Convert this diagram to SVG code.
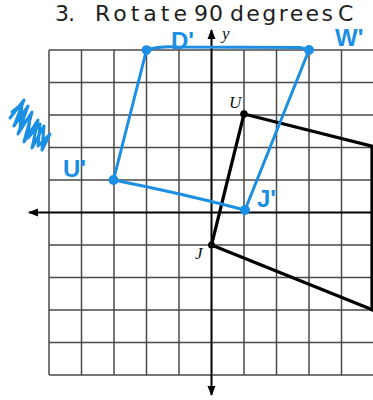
<svg xmlns="http://www.w3.org/2000/svg" width="373" height="400" viewBox="0 0 373 400">
<style>
.grid{stroke:#4a4a4a;stroke-width:1.5;fill:none}
.axis{stroke:#000;stroke-width:2;fill:none}
.orig{stroke:#000;stroke-width:3.2;fill:none;stroke-linecap:round}
.img{stroke:#1b8fe3;stroke-width:3;fill:none;stroke-linecap:round;stroke-linejoin:round}
.title{font-family:"DejaVu Sans","Liberation Sans",sans-serif;font-size:22px;fill:#1e1e1e}
.lbl{font-family:"Liberation Serif",serif;font-style:italic;font-size:17px;fill:#111}
.hand{font-family:"Liberation Sans",sans-serif;font-size:24px;fill:#1b8fe3;font-weight:bold}
</style>
<defs>
<marker id="ah" viewBox="0 0 10 10" refX="9" refY="5" markerWidth="5" markerHeight="5" orient="auto-start-reverse" markerUnits="strokeWidth">
<path d="M0,1 L10,5 L0,9 Z" fill="#000"/>
</marker>
</defs>
<rect width="373" height="400" fill="#fff"/>
<g id="title">
<text class="title" y="20.5"><tspan x="55" textLength="20">3.</tspan><tspan x="95" textLength="92">Rotate</tspan><tspan x="194" textLength="29">90</tspan><tspan x="230" textLength="103">degrees</tspan><tspan x="338">C</tspan></text>
</g>
<g id="grid" class="grid">
<path d="M49,50V375M81.5,50V375M114,50V375M146.5,50V375M179,50V375M244,50V375M276.5,50V375M309,50V375M341.5,50V375"/>
<path d="M49,50H373M49,82.5H373M49,115H373M49,147.5H373M49,180H373M49,245H373M49,277.5H373M49,310H373M49,342.5H373M49,375H373"/>
</g>
<g id="axes">
<line class="axis" x1="211.5" y1="30" x2="211.5" y2="395" marker-start="url(#ah)" marker-end="url(#ah)"/>
<line class="axis" x1="29" y1="212.5" x2="373" y2="212.5" marker-start="url(#ah)"/>
<text class="lbl" x="222" y="39" font-size="13">y</text>
</g>
<g id="connectors">
<path class="orig" d="M244,114 L373,146.5"/>
<path class="orig" d="M244,114 L211.5,245"/>
<path class="orig" d="M211.5,245 L373,310"/>
<path class="orig" d="M372,146.5 V310"/>
<path class="img" d="M146.5,50 Q160,46 178,47 L300,47.5 L309,50"/>
<path class="img" d="M146.5,50 L113.5,180"/>
<path class="img" d="M113.5,180 Q180,193 245,210"/>
<path class="img" d="M309,50 L245,210"/>
</g>
<g id="node-U">
<circle cx="244" cy="114" r="3.8" fill="#000"/>
<text class="lbl" x="229" y="108">U</text>
</g>
<g id="node-J">
<circle cx="211.5" cy="245" r="3.5" fill="#000"/>
<text class="lbl" x="195" y="259">J</text>
</g>
<g id="node-D1">
<circle cx="146.5" cy="50" r="4.8" fill="#1b8fe3"/>
<text class="hand" x="171" y="49" font-size="25">D'</text>
</g>
<g id="node-W1">
<circle cx="309" cy="50" r="5" fill="#1b8fe3"/>
<text class="hand" x="335" y="46" font-size="19">W'</text>
</g>
<g id="node-U1">
<circle cx="113.5" cy="180" r="5" fill="#1b8fe3"/>
<text class="hand" x="63" y="177" font-size="25">U'</text>
</g>
<g id="node-J1">
<circle cx="245" cy="210" r="5" fill="#1b8fe3"/>
<text class="hand" x="257" y="207" font-size="26">J'</text>
</g>
<g id="scribble">
<path class="img" stroke-width="4" d="M10,118 L24,100 L14,126 L28,106 L18,134 L32,112 L24,142 L38,120 L32,148 L44,126 L42,150 L50,134 M12,112 L22,104 L20,128 L30,116 L28,138 L40,124 L38,146 L48,136"/>
</g>
</svg>
